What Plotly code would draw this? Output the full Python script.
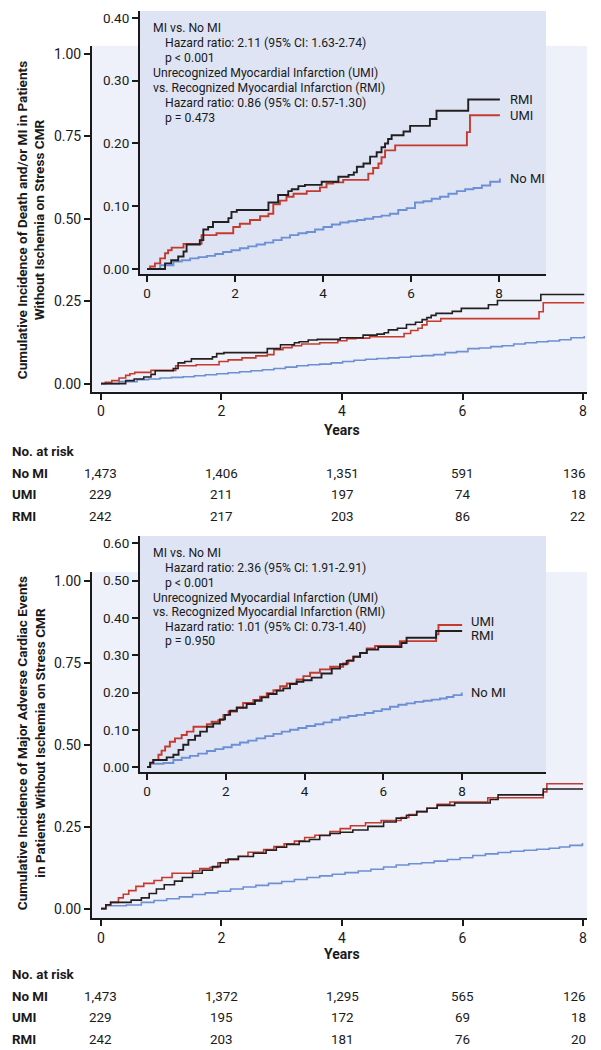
import plotly.graph_objects as go

# Page body has an 8px margin; the figure is sized to fit the 601x1050 window exactly.
OFF = 8
W, H = 601 - OFF, 1050 - OFF

# ---------------- DATA ----------------
years_ticks = [0, 2, 4, 6, 8]
groups = ["No MI", "UMI", "RMI"]

# Panel A: Death and/or MI
a_t_nomi = [0, 0.30, 0.60, 0.79, 0.98, 1.17, 1.36, 1.55, 1.73, 1.92, 2.11, 2.30, 2.49, 2.68, 2.87, 3.06,
            3.25, 3.44, 3.63, 3.82, 4.01, 4.20, 4.39, 4.58, 4.77, 4.95, 5.14, 5.33, 5.52, 5.71, 5.90,
            6.09, 6.28, 6.47, 6.66, 6.85, 7.04, 7.23, 7.42, 7.61, 7.80, 8.02]
a_v_nomi = [0, 0.006, 0.012, 0.014, 0.017, 0.019, 0.021, 0.024, 0.027, 0.030, 0.033, 0.036, 0.039, 0.042,
            0.046, 0.050, 0.054, 0.057, 0.059, 0.063, 0.067, 0.071, 0.074, 0.076, 0.078, 0.080, 0.083,
            0.085, 0.088, 0.094, 0.097, 0.106, 0.108, 0.112, 0.115, 0.120, 0.124, 0.127, 0.129, 0.133,
            0.139, 0.144]
a_t_umi = [0, 0.07, 0.18, 0.30, 0.41, 0.48, 0.56, 0.83, 1.24, 1.58, 1.96, 2.11, 2.34, 2.57, 2.76, 2.87,
           3.02, 3.17, 3.33, 3.63, 3.93, 4.08, 4.23, 4.46, 5.03, 5.14, 5.26, 5.33, 5.41, 5.64, 7.27, 7.34, 8.02]
a_v_umi = [0, 0.004, 0.009, 0.017, 0.025, 0.030, 0.034, 0.040, 0.054, 0.057, 0.067, 0.072, 0.078, 0.084,
           0.088, 0.103, 0.109, 0.115, 0.120, 0.124, 0.130, 0.136, 0.138, 0.142, 0.152, 0.161, 0.168,
           0.178, 0.189, 0.197, 0.218, 0.245, 0.245]
a_t_rmi = [0, 0.41, 0.55, 0.71, 0.83, 0.90, 1.20, 1.28, 1.39, 1.50, 1.85, 1.92, 2.04, 2.76, 2.98, 3.21,
           3.29, 3.44, 3.59, 3.97, 4.35, 4.58, 4.70, 4.77, 4.92, 5.07, 5.22, 5.33, 5.41, 5.48, 5.56,
           5.83, 5.98, 6.43, 6.58, 7.30, 8.02]
a_v_rmi = [0, 0.009, 0.014, 0.020, 0.028, 0.039, 0.046, 0.063, 0.067, 0.075, 0.081, 0.091, 0.094, 0.106,
           0.118, 0.124, 0.127, 0.132, 0.134, 0.139, 0.147, 0.150, 0.154, 0.163, 0.168, 0.179, 0.186,
           0.194, 0.200, 0.207, 0.213, 0.219, 0.228, 0.239, 0.252, 0.270, 0.270]
a_risk_nomi = ["1,473", "1,406", "1,351", "591", "136"]
a_risk_umi = ["229", "211", "197", "74", "18"]
a_risk_rmi = ["242", "217", "203", "86", "22"]

# Panel B: MACE
b_t_nomi = [0, 0.08, 0.42, 0.67, 0.88, 1.09, 1.30, 1.52, 1.73, 1.94, 2.15, 2.36, 2.57, 2.78, 3.00, 3.21,
            3.42, 3.63, 3.84, 4.05, 4.27, 4.48, 4.69, 4.90, 5.11, 5.32, 5.53, 5.75, 5.96, 6.17, 6.38,
            6.59, 6.80, 7.02, 7.23, 7.44, 7.61, 7.78, 7.99]
b_v_nomi = [0, 0.009, 0.011, 0.019, 0.025, 0.030, 0.036, 0.043, 0.048, 0.053, 0.060, 0.066, 0.071, 0.077,
            0.083, 0.089, 0.095, 0.100, 0.105, 0.110, 0.115, 0.120, 0.127, 0.133, 0.137, 0.140, 0.145,
            0.150, 0.155, 0.162, 0.167, 0.171, 0.175, 0.178, 0.181, 0.184, 0.188, 0.193, 0.200]
b_t_umi = [0, 0.08, 0.16, 0.29, 0.37, 0.46, 0.58, 0.71, 0.88, 1.01, 1.18, 1.52, 1.64, 1.81, 1.94, 2.07,
           2.28, 2.44, 2.70, 2.87, 3.04, 3.21, 3.38, 3.55, 3.80, 3.97, 4.14, 4.39, 4.65, 4.98, 5.11,
           5.24, 5.41, 5.58, 5.79, 6.42, 7.34, 7.40, 8.00]
b_v_umi = [0, 0.011, 0.019, 0.033, 0.044, 0.055, 0.068, 0.077, 0.086, 0.095, 0.108, 0.115, 0.122, 0.126,
           0.140, 0.149, 0.160, 0.172, 0.180, 0.189, 0.198, 0.206, 0.217, 0.224, 0.235, 0.244, 0.253,
           0.262, 0.269, 0.278, 0.287, 0.296, 0.306, 0.318, 0.325, 0.338, 0.356, 0.381, 0.381]
b_t_rmi = [0, 0.08, 0.16, 0.50, 0.67, 0.80, 0.92, 1.05, 1.22, 1.35, 1.52, 1.68, 1.85, 1.98, 2.11, 2.28,
           2.53, 2.74, 2.91, 3.08, 3.29, 3.46, 3.63, 3.80, 3.97, 4.18, 4.43, 4.69, 4.90, 5.07, 5.24,
           5.41, 5.58, 5.87, 6.46, 6.59, 7.34, 8.00]
b_v_rmi = [0, 0.012, 0.019, 0.026, 0.033, 0.046, 0.060, 0.073, 0.084, 0.095, 0.108, 0.117, 0.128, 0.140,
           0.151, 0.159, 0.169, 0.178, 0.187, 0.196, 0.205, 0.211, 0.223, 0.229, 0.233, 0.240, 0.251,
           0.264, 0.276, 0.285, 0.296, 0.306, 0.315, 0.322, 0.333, 0.347, 0.365, 0.365]
b_risk_nomi = ["1,473", "1,372", "1,295", "565", "126"]
b_risk_umi = ["229", "195", "172", "69", "18"]
b_risk_rmi = ["242", "203", "181", "76", "20"]

# ---------------- STYLE ----------------
FONT = "Roboto"
C_BLACK = "#231f20"
C_RED = "#c63a2e"
C_BLUE = "#6d8fd3"
BG_MAIN = "#eef1f9"
BG_INSET = "#dee4f4"
TXT = "#1a1a1a"


def px_x(p):
    return (p - OFF) / W


def px_y(p):
    return 1 - (p - OFF) / H


fig = go.Figure()

panels = [
    dict(main=("x", "y"), inset=("x2", "y2"),
         data=[(a_t_nomi, a_v_nomi, C_BLUE, "No MI"), (a_t_umi, a_v_umi, C_RED, "UMI"), (a_t_rmi, a_v_rmi, C_BLACK, "RMI")]),
    dict(main=("x3", "y3"), inset=("x4", "y4"),
         data=[(b_t_nomi, b_v_nomi, C_BLUE, "No MI"), (b_t_umi, b_v_umi, C_RED, "UMI"), (b_t_rmi, b_v_rmi, C_BLACK, "RMI")]),
]

for p in panels:
    for (t, v, c, name) in p["data"]:
        fig.add_trace(go.Scatter(x=t, y=v, mode="lines", line=dict(color=c, width=1.6, shape="hv"),
                                 xaxis=p["main"][0], yaxis=p["main"][1], name=name, showlegend=False,
                                 hoverinfo="skip"))
    for (t, v, c, name) in p["data"]:
        fig.add_trace(go.Scatter(x=t, y=v, mode="lines", line=dict(color=c, width=1.9, shape="hv"),
                                 xaxis=p["inset"][0], yaxis=p["inset"][1], name=name, showlegend=False,
                                 hoverinfo="skip"))


def ax(size):
    return dict(showgrid=False, zeroline=False, showline=True, linecolor=TXT, linewidth=2,
                ticks="outside", ticklen=6, tickwidth=1.6, tickcolor=TXT,
                tickfont=dict(family=FONT, size=size, color=TXT), fixedrange=True)


MAIN_TF, INSET_TF = 14, 13.5
xr_main = [-0.149, 8.066]
fig.update_layout(
    xaxis=dict(domain=[px_x(92), px_x(587)], range=xr_main, tickvals=years_ticks, anchor="y", **ax(MAIN_TF)),
    yaxis=dict(domain=[px_y(392), px_y(45)], range=[-0.024, 1.024], tickvals=[0, 0.25, 0.5, 0.75, 1.0],
               tickformat=".2f", anchor="x", **ax(MAIN_TF)),
    xaxis2=dict(domain=[px_x(140), px_x(546)], range=[-0.159, 9.068], tickvals=years_ticks, anchor="y2",
                **ax(INSET_TF)),
    yaxis2=dict(domain=[px_y(274), px_y(10)], range=[-0.0079, 0.411], tickvals=[0, 0.1, 0.2, 0.3, 0.4],
                tickformat=".2f", anchor="x2", **ax(INSET_TF)),
    xaxis3=dict(domain=[px_x(92), px_x(587)], range=xr_main, tickvals=years_ticks, anchor="y3", **ax(MAIN_TF)),
    yaxis3=dict(domain=[px_y(921), px_y(573)], range=[-0.030, 1.027], tickvals=[0, 0.25, 0.5, 0.75, 1.0],
                tickformat=".2f", anchor="x3", **ax(MAIN_TF)),
    xaxis4=dict(domain=[px_x(140), px_x(546)], range=[-0.178, 10.13], tickvals=years_ticks, anchor="y4",
                **ax(INSET_TF)),
    yaxis4=dict(domain=[px_y(774), px_y(537)], range=[-0.0134, 0.620], tickvals=[0, 0.1, 0.2, 0.3, 0.4, 0.5, 0.6],
                tickformat=".2f", anchor="x4", **ax(INSET_TF)),
)

# inset backgrounds
fig.add_shape(type="rect", xref="x2", yref="y2", x0=-0.159, x1=9.068, y0=-0.0079, y1=0.411,
              fillcolor=BG_INSET, line=dict(width=0), layer="below")
fig.add_shape(type="rect", xref="x4", yref="y4", x0=-0.178, x1=10.13, y0=-0.0134, y1=0.620,
              fillcolor=BG_INSET, line=dict(width=0), layer="below")

ann = []


def txt(x, y, s, size=12, bold=False, xanchor="left", xref="paper", yref="paper", angle=0, xshift=0, yshift=0,
        align="left"):
    ann.append(dict(x=x, y=y, xref=xref, yref=yref, text=("<b>%s</b>" % s) if bold else s, showarrow=False,
                    xanchor=xanchor, yanchor="middle", textangle=angle, xshift=xshift, yshift=yshift,
                    align=align, font=dict(family=FONT, size=size, color=TXT)))


# Y-axis titles
txt(px_x(31), px_y(220), "Cumulative Incidence of Death and/or MI in Patients<br>Without Ischemia on Stress CMR",
    size=13.6, bold=True, xanchor="center", angle=-90, align="center")
txt(px_x(31), px_y(745), "Cumulative Incidence of Major Adverse Cardiac Events<br>in Patients Without Ischemia on Stress CMR",
    size=13.6, bold=True, xanchor="center", angle=-90, align="center")

# Years
txt(4, px_y(431), "Years", size=14, bold=True, xanchor="center", xref="x")
txt(4, px_y(957), "Years", size=14, bold=True, xanchor="center", xref="x3")

# Inset stats text
stats_a = [("MI vs. No MI", 151), ("Hazard ratio: 2.11 (95% CI: 1.63-2.74)", 163), ("p < 0.001", 163),
           ("Unrecognized Myocardial Infarction (UMI)", 151), ("vs. Recognized Myocardial Infarction (RMI)", 151),
           ("Hazard ratio: 0.86 (95% CI: 0.57-1.30)", 163), ("p = 0.473", 163)]
stats_b = [("MI vs. No MI", 151), ("Hazard ratio: 2.36 (95% CI: 1.91-2.91)", 163), ("p < 0.001", 163),
           ("Unrecognized Myocardial Infarction (UMI)", 151), ("vs. Recognized Myocardial Infarction (RMI)", 151),
           ("Hazard ratio: 1.01 (95% CI: 0.73-1.40)", 163), ("p = 0.950", 163)]
ya = [27, 42, 57, 72, 87, 102, 117]
yb = [554, 569, 584, 599, 613, 628, 642]
for (s, xp), yp in zip(stats_a, ya):
    txt(px_x(xp), px_y(yp), s, size=12.2)
for (s, xp), yp in zip(stats_b, yb):
    txt(px_x(xp), px_y(yp), s, size=12.2)

# Curve end labels
for (t, v, c, name), ys in zip(panels[0]["data"], [0, 0, 0]):
    txt(t[-1], v[-1], name, size=13, xref="x2", yref="y2", xshift=8, yshift=ys)
for (t, v, c, name), ys in zip(panels[1]["data"], [0, 4, -4]):
    txt(t[-1], v[-1], name, size=13, xref="x4", yref="y4", xshift=7, yshift=ys)


# Number at risk tables
def risk_table(y0, xref, rows):
    txt(px_x(10), px_y(y0), "No. at risk", size=13.4, bold=True)
    for i, (label, vals) in enumerate(rows):
        yy = px_y(y0 + 22 + 21.5 * i)
        txt(px_x(10), yy, label, size=13.4, bold=True)
        for j, (tv, s) in enumerate(zip(years_ticks, vals)):
            if j == len(vals) - 1:
                txt(px_x(588), yy, s, size=13.4, xanchor="right")
            else:
                txt(tv, yy, s, size=13.4, xanchor="center", xref=xref)


risk_table(452, "x", [("No MI", a_risk_nomi), ("UMI", a_risk_umi), ("RMI", a_risk_rmi)])
risk_table(977, "x3", [("No MI", b_risk_nomi), ("UMI", b_risk_umi), ("RMI", b_risk_rmi)])

fig.update_layout(width=W, height=H, margin=dict(l=0, r=0, t=0, b=0), paper_bgcolor="white",
                  plot_bgcolor=BG_MAIN, annotations=ann, showlegend=False,
                  font=dict(family=FONT, color=TXT))

fig.write_html("out.html")
